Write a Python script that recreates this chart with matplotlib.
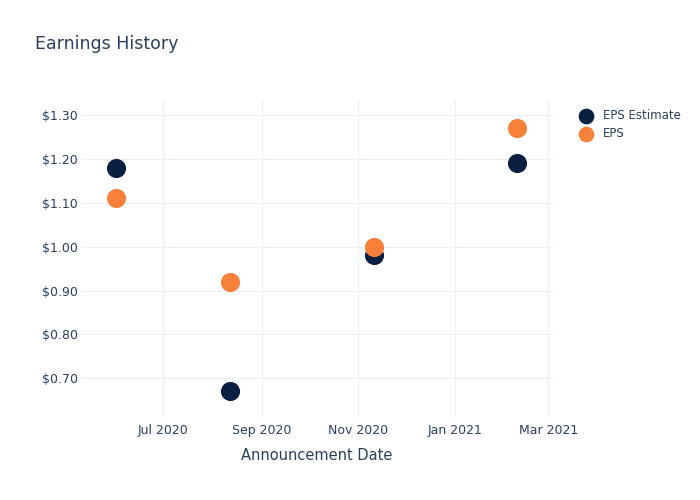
import numpy as np
import pandas as pd
import matplotlib
matplotlib.use("Agg")
import matplotlib.pyplot as plt
import matplotlib.dates as mdates
from matplotlib.ticker import FuncFormatter

# data
dates = pd.to_datetime(["2020-06-01", "2020-08-12", "2020-11-11", "2021-02-09"])
eps_estimate = [1.18, 0.67, 0.98, 1.19]
eps_actual = [1.11, 0.92, 1.00, 1.27]

txt = "#2a3f5f"
grid = "#ebf0f8"
navy = "#0b1f41"
orange = "#f7813a"

plt.rcParams["font.family"] = ["DejaVu Sans"]

fig = plt.figure(figsize=(7, 5), dpi=100)
ax = fig.add_axes([81 / 700, 82 / 500, 472 / 700, 318 / 500])

ax.scatter(dates, eps_estimate, s=190, color=navy, label="EPS Estimate", zorder=3, linewidths=0)
ax.scatter(dates, eps_actual, s=190, color=orange, label="EPS", zorder=4, linewidths=0)

ax.set_xlim(pd.Timestamp("2020-05-10"), pd.Timestamp("2021-03-04"))
ax.set_ylim(0.6096, 1.334)

ax.set_yticks([0.7, 0.8, 0.9, 1.0, 1.1, 1.2, 1.3])
ax.yaxis.set_major_formatter(FuncFormatter(lambda v, p: "${:.2f}".format(v)))
ax.xaxis.set_major_locator(mdates.MonthLocator(bymonth=[1, 3, 5, 7, 9, 11]))
ax.xaxis.set_major_formatter(mdates.DateFormatter("%b %Y"))

ax.grid(True, color=grid, linewidth=0.8)
ax.set_axisbelow(True)
for s in ax.spines.values():
    s.set_visible(False)
ax.tick_params(length=0, colors=txt, labelsize=9)
ax.tick_params(axis="y", pad=2)
ax.tick_params(axis="x", pad=4)

ax.set_xlabel("Announcement Date", color=txt, fontsize=10.5, labelpad=8)
fig.text(35 / 700, 1 - 44 / 500, "Earnings History", color=txt, fontsize=12.5, va="center")

leg = ax.legend(loc="upper left", bbox_to_anchor=(1.02, 1.01), frameon=False,
                fontsize=8.5, labelcolor=txt, handletextpad=0.45, markerscale=0.82,
                labelspacing=0.45, borderaxespad=0.6)

fig.savefig("out.png", dpi=100, facecolor="white")
